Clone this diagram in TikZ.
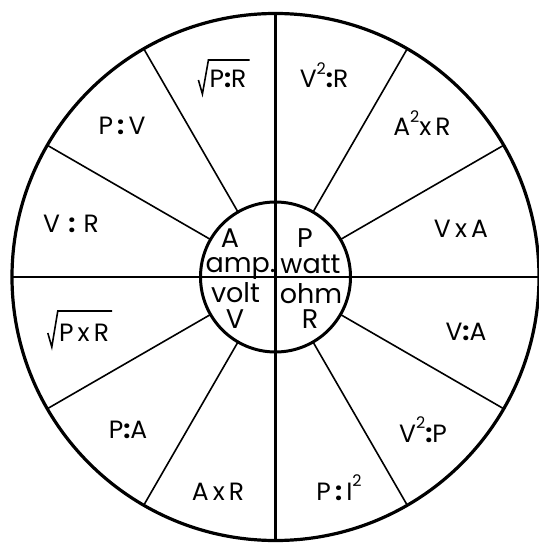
\documentclass[tikz,border=0pt]{standalone}
\usepackage{fontspec}
\setmainfont{Poppins}
\begin{document}
\begin{tikzpicture}[x=1bp,y=-1bp,
  ring/.style={draw, circle, inner sep=0pt, outer sep=0pt},
  spoke/.style={line width=1.6bp},
  cross/.style={line width=2.8bp},
  outlbl/.style={anchor=base, inner sep=0pt, font=\fontsize{25bp}{28bp}\selectfont},
  inlbl/.style={anchor=base, inner sep=0pt, font=\fontsize{27bp}{30bp}\selectfont},
  radical/.style={line width=1.6bp, line join=miter}]
\useasboundingbox (0,0) rectangle (539,543);
\node[ring, line width=3.2bp, minimum size=527bp] (outer) at (275.5,277) {};
\node[ring, line width=3bp, minimum size=150bp] (inner) at (275.5,277) {};
% cross
\draw[cross] (outer.180) -- (outer.0);
\draw[cross] (outer.90) -- (outer.270);
% spokes
\foreach \a in {30,60,120,150,210,240,300,330}
  \draw[spoke] (inner.\a) -- (outer.\a);
% outer labels
\newcommand{\sq}{\raisebox{0.55em}{\fontsize{16bp}{16bp}\selectfont 2}}
\newcommand{\cl}{\textbf{:}}
\node[outlbl] (pr) at (228,88) {P\cl R};
\draw[radical] ([xshift=-11bp,yshift=8bp]pr.base west) -- ([xshift=-7bp,yshift=-6bp]pr.base west) -- ([xshift=-1bp,yshift=28bp]pr.base west) -- ([xshift=3bp,yshift=28bp]pr.base east);
\node[outlbl] (pv) at (122,135) {P\,\cl\,V};
\node[outlbl] (vr) at (71,232) {V\,\,\cl\,\,R};
\node[outlbl] (v2r) at (324,88) {V\sq\cl R};
\node[outlbl] (a2r) at (422,136) {A\sq x\,R};
\node[outlbl] (va) at (461,237) {V\,x\,A};
\node[outlbl] (pxr) at (84,341) {P\,x\,R};
\draw[radical] ([xshift=-11bp,yshift=8bp]pxr.base west) -- ([xshift=-7bp,yshift=-6bp]pxr.base west) -- ([xshift=-1bp,yshift=30bp]pxr.base west) -- ([xshift=3bp,yshift=30bp]pxr.base east);
\node[outlbl] (pa) at (128,438) {P\cl A};
\node[outlbl] (axr) at (218,500) {A\,x\,R};
\node[outlbl] (vA) at (466,340) {V\cl A};
\node[outlbl] (v2p) at (423,442) {V\sq\cl P};
\node[outlbl] (pi2) at (339,500) {P\,\cl\,I\sq};
% inner labels
\node[inlbl] (iA) at (230,247) {A};
\node[inlbl] (amp) at (240.5,272) {amp.};
\node[inlbl] (iP) at (305,247) {P};
\node[inlbl] (watt) at (310.5,273) {watt};
\node[inlbl] (volt) at (235.5,302) {volt};
\node[inlbl] (iV) at (235,328) {V};
\node[inlbl] (ohm) at (311,303) {ohm};
\node[inlbl] (iR) at (310,328) {R};
\end{tikzpicture}
\end{document}
